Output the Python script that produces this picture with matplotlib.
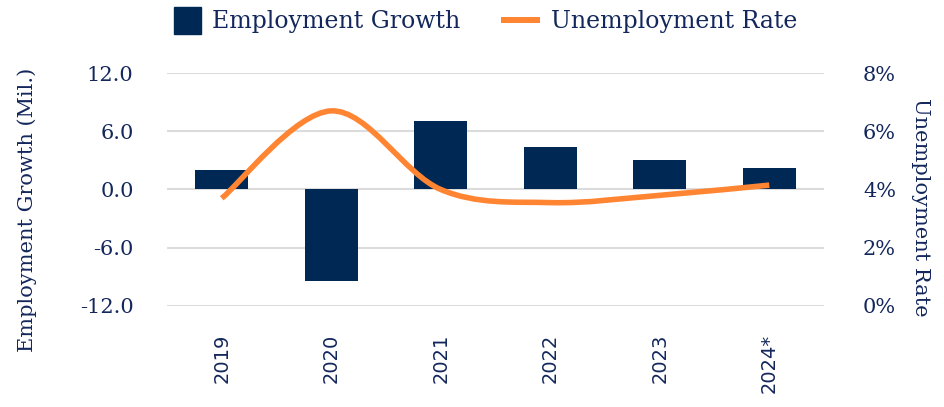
import numpy as np
import matplotlib
matplotlib.use("Agg")
import matplotlib.pyplot as plt
import matplotlib.patches as mpatches
from matplotlib.lines import Line2D
from matplotlib.path import Path
from matplotlib.legend_handler import HandlerPatch

years = ["2019", "2020", "2021", "2022", "2023", "2024*"]
employment_growth = [2.0, -9.4, 7.1, 4.4, 3.0, 2.2]      # millions
unemployment_rate = [3.7, 6.7, 4.0, 3.55, 3.8, 4.15]     # percent

left_ticks = [-12.0, -6.0, 0.0, 6.0, 12.0]
right_ticks = [0, 2, 4, 6, 8]

NAVY = "#002855"
ORANGE = "#ff8533"
TEXT = "#13275c"
GRID = "#dcdcdc"
FONT = "DejaVu Serif"

plt.rcParams["font.family"] = FONT


def smooth_path(xs, ys):
    # Bezier curve through the points (Catmull-Rom style control points)
    pts = np.column_stack([xs, ys]).astype(float)
    n = len(pts)
    verts = [pts[0]]
    codes = [Path.MOVETO]
    for i in range(n - 1):
        p0 = pts[max(i - 1, 0)]
        p1 = pts[i]
        p2 = pts[i + 1]
        p3 = pts[min(i + 2, n - 1)]
        c1 = p1 + (p2 - p0) / 6.0
        c2 = p2 - (p3 - p1) / 6.0
        verts += [c1, c2, p2]
        codes += [Path.CURVE4] * 3
    return Path(verts, codes)


fig = plt.figure(figsize=(9.44, 4.07), dpi=100)
ax = fig.add_axes([0.1769, 0.2482, 0.696, 0.5724])
x = np.arange(len(years))

ax.bar(x, employment_growth, width=0.48, color=NAVY, zorder=2)
ax.set_xlim(-0.5, len(years) - 0.5)
ax.set_ylim(-12, 12)
ax.set_yticks(left_ticks)
ax.set_yticklabels([f"{v:.1f}" for v in left_ticks])
ax.set_xticks(x)
ax.set_xticklabels(years, rotation=90, fontfamily="DejaVu Sans")
ax.grid(True, axis="y", color=GRID, linewidth=1.5, zorder=0)
ax.set_axisbelow(True)
ax.tick_params(axis="y", length=0, pad=24, labelsize=15, labelcolor=TEXT)
ax.tick_params(axis="x", length=0, pad=20, labelsize=14, labelcolor=TEXT)
ax.set_ylabel("Employment Growth (Mil.)", fontsize=15, color=TEXT)
ax.yaxis.set_label_coords(-0.2123, 0.412)
ax.yaxis.label.set_va("center")
for s in ax.spines.values():
    s.set_visible(False)

ax2 = ax.twinx()
ax2.set_ylim(0, 8)
ax2.set_yticks(right_ticks)
ax2.set_yticklabels([f"{v}%" for v in right_ticks])
ax2.tick_params(axis="y", length=0, pad=28, labelsize=15, labelcolor=TEXT)
ax2.set_ylabel("Unemployment Rate", fontsize=15, color=TEXT, rotation=-90)
ax2.yaxis.set_label_coords(1.1476, 0.423)
ax2.yaxis.label.set_va("center")
for s in ax2.spines.values():
    s.set_visible(False)

curve = mpatches.PathPatch(smooth_path(x, unemployment_rate), facecolor="none",
                           edgecolor=ORANGE, linewidth=4.0, capstyle="butt",
                           zorder=3)
ax2.add_patch(curve)


def square_box(legend, orig_handle, xdescent, ydescent, width, height, fontsize):
    size = 1.14 * fontsize
    return mpatches.Rectangle((width - size - xdescent,
                               -ydescent + (height - size) / 2), size, size)


handles = [mpatches.Patch(color=NAVY, label="Employment Growth"),
           Line2D([], [], color=ORANGE, linewidth=4.3, solid_capstyle="butt",
                  label="Unemployment Rate")]
fig.legend(handles=handles, loc="center", bbox_to_anchor=(0.508, 0.946),
           ncol=2, frameon=False, fontsize=17, labelcolor=TEXT,
           handlelength=1.65, handleheight=0.9, handletextpad=0.47,
           columnspacing=1.74,
           handler_map={mpatches.Patch: HandlerPatch(patch_func=square_box)})

fig.savefig("out.png", dpi=100)
